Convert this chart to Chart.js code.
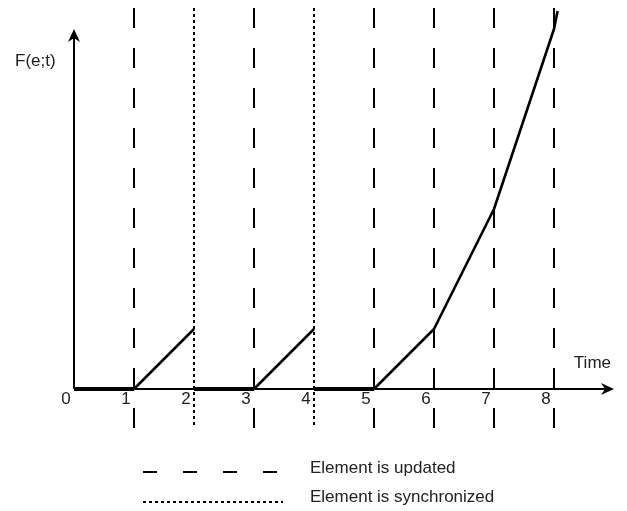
<!DOCTYPE html>
<html lang="en">
<head>
  <meta charset="UTF-8">
  <title>F(e;t) over time</title>
  <script src="https://cdn.jsdelivr.net/npm/chart.js"></script>
  <style>
    html, body { margin: 0; padding: 0; background: #fff; }
    canvas { display: block; }
  </style>
</head>
<body>
  <canvas id="chart" width="627" height="511"></canvas>

  <script>
    // time points where the element is updated / synchronized
    const updateTimes = [1, 3, 5, 6, 7, 8];
    const syncTimes = [2, 4];
    const tickLabels = ['0', '1', '2', '3', '4', '5', '6', '7', '8'];

    // F(e;t): flat stretches (drawn thicker) and rising stretches; null = break
    const flatX = [0, 1, null, 2, 3, null, 4, 5];
    const flatY = [0, 0, null, 0, 0, null, 0, 0];
    const riseX = [1, 2, null, 3, 4, null, 5, 6, 7, 8, 8.06];
    const riseY = [0, 1, null, 0, 1, null, 0, 1, 3, 6, 6.3];

    const xMin = -1, xMax = 9;
    const yMin = -0.65, yMax = 6.35;
    const xAxisEnd = 9, yAxisEnd = 6;

    const FONT = '17px "Liberation Sans", Arial, sans-serif';

    function toPoints(xs, ys) {
      let lastX = 0;
      return xs.map((x, i) => {
        if (x === null) return { x: lastX, y: null };
        lastX = x;
        return { x: x, y: ys[i] };
      });
    }

    const datasets = [];
    datasets.push({
      data: toPoints(flatX, flatY), borderColor: '#000', borderWidth: 4,
      pointRadius: 0, spanGaps: false, order: 0, borderCapStyle: 'butt'
    });
    datasets.push({
      data: toPoints(riseX, riseY), borderColor: '#000', borderWidth: 2.6,
      pointRadius: 0, spanGaps: false, order: 0, borderJoinStyle: 'round'
    });
    updateTimes.forEach(t => {
      datasets.push({
        data: [{ x: t, y: yMax }, { x: t, y: yMin }], borderColor: '#000',
        borderWidth: 2, borderDash: [20, 20], pointRadius: 0, order: 2, borderCapStyle: 'butt'
      });
    });
    syncTimes.forEach(t => {
      datasets.push({
        data: [{ x: t, y: yMax }, { x: t, y: yMin }], borderColor: '#000',
        borderWidth: 2, borderDash: [3, 3], pointRadius: 0, order: 2, borderCapStyle: 'butt'
      });
    });

    const axesPlugin = {
      id: 'axesPlugin',
      afterDatasetsDraw(chart) {
        const ctx = chart.ctx;
        const xs = chart.scales.x, ys = chart.scales.y;
        const ox = xs.getPixelForValue(0), oy = ys.getPixelForValue(0);
        const xe = xs.getPixelForValue(xAxisEnd), ye = ys.getPixelForValue(yAxisEnd);
        ctx.save();
        ctx.strokeStyle = '#000';
        ctx.fillStyle = '#000';
        ctx.lineWidth = 2;
        ctx.setLineDash([]);
        // x axis
        ctx.beginPath(); ctx.moveTo(ox, oy); ctx.lineTo(xe - 6, oy); ctx.stroke();
        ctx.beginPath(); ctx.moveTo(xe, oy); ctx.lineTo(xe - 13, oy - 6); ctx.lineTo(xe - 9, oy); ctx.lineTo(xe - 13, oy + 6); ctx.closePath(); ctx.fill();
        // y axis
        ctx.beginPath(); ctx.moveTo(ox, oy); ctx.lineTo(ox, ye + 6); ctx.stroke();
        ctx.beginPath(); ctx.moveTo(ox, ye); ctx.lineTo(ox - 6, ye + 13); ctx.lineTo(ox, ye + 9); ctx.lineTo(ox + 6, ye + 13); ctx.closePath(); ctx.fill();

        // tick labels, just left of each time mark
        ctx.font = FONT;
        ctx.fillStyle = '#222';
        ctx.textAlign = 'center';
        ctx.textBaseline = 'middle';
        tickLabels.forEach((lab, i) => {
          ctx.fillText(lab, xs.getPixelForValue(i) - 8, oy + 10);
        });
        // axis titles
        ctx.textAlign = 'left';
        ctx.fillText('F(e;t)', ox - 59, ye + 32);
        ctx.textAlign = 'right';
        ctx.fillText('Time', xe - 3, oy - 26);

        // legend
        const lx0 = 143, lx1 = 283, tx = 310;
        ctx.lineWidth = 2;
        ctx.setLineDash([14, 26]);
        ctx.beginPath(); ctx.moveTo(lx0, 472); ctx.lineTo(lx1, 472); ctx.stroke();
        ctx.setLineDash([3, 3]);
        ctx.beginPath(); ctx.moveTo(lx0, 502); ctx.lineTo(lx1, 502); ctx.stroke();
        ctx.setLineDash([]);
        ctx.textAlign = 'left';
        ctx.fillText('Element is updated', tx, 468);
        ctx.fillText('Element is synchronized', tx, 497);
        ctx.restore();
      }
    };

    new Chart(document.getElementById('chart').getContext('2d'), {
      type: 'line',
      data: { datasets },
      options: {
        responsive: false,
        animation: false,
        layout: { padding: { left: 14, right: 13, top: 8, bottom: 83 } },
        scales: {
          x: { type: 'linear', min: xMin, max: xMax, display: false },
          y: { type: 'linear', min: yMin, max: yMax, display: false }
        },
        plugins: { legend: { display: false }, tooltip: { enabled: false } },
        elements: { line: { tension: 0 } }
      },
      plugins: [axesPlugin]
    });
  </script>
</body>
</html>
